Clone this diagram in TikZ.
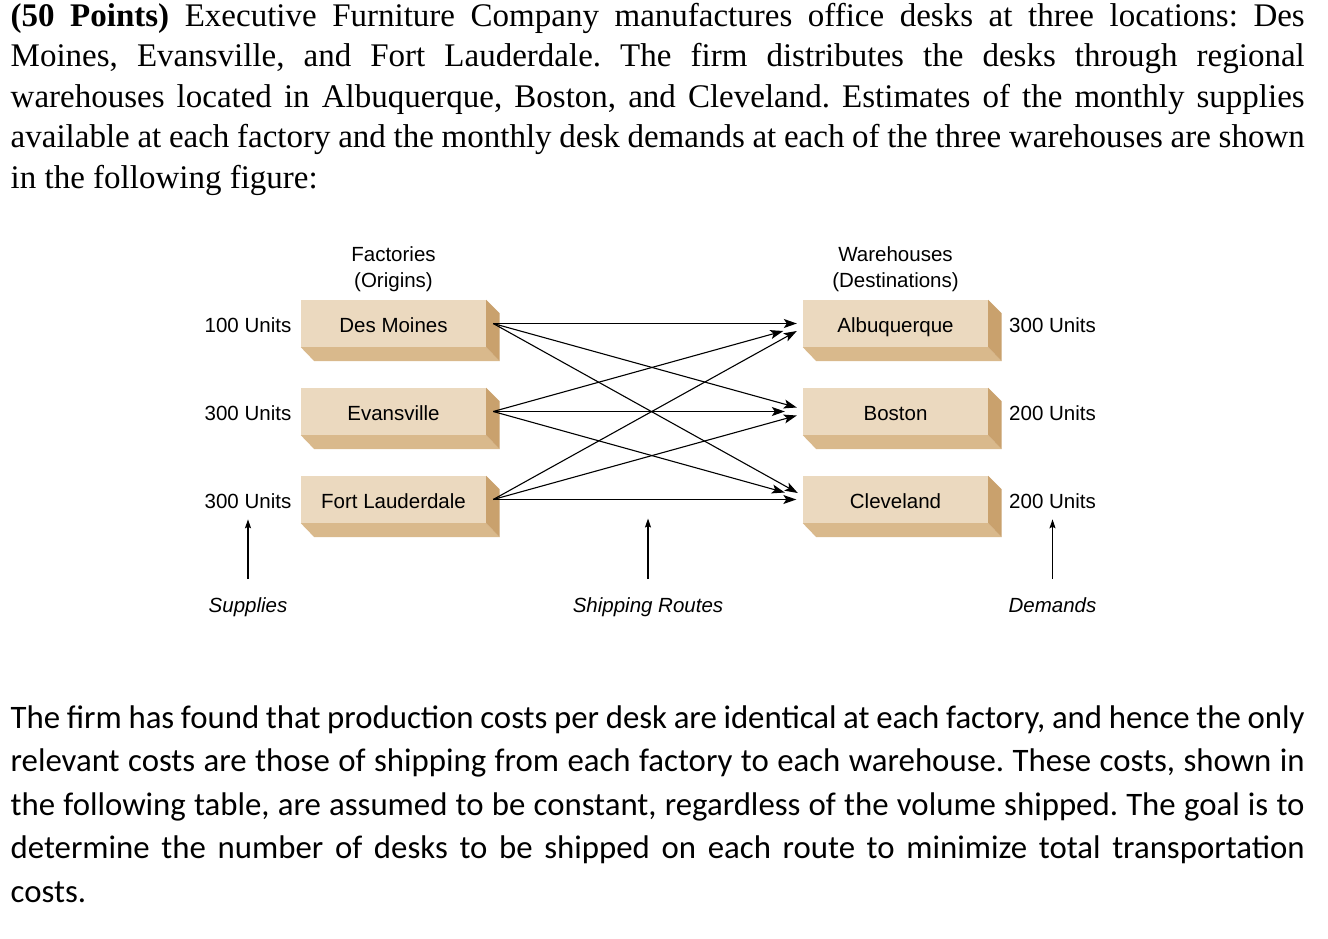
\documentclass[tikz,border=0pt]{standalone}
\usepackage{fontspec}
\setmainfont{Liberation Serif}
\setsansfont{Liberation Sans}
\newfontfamily\calibfont{Carlito}
\usetikzlibrary{arrows.meta}
\definecolor{boxfront}{HTML}{EBD9BF}
\definecolor{boxbottom}{HTML}{D9B98C}
\definecolor{boxside}{HTML}{C9A16D}
\begin{document}
\begin{tikzpicture}[x=1pt,y=-1pt,
  toptext/.style={anchor=base west, inner sep=0pt, font=\fontsize{33}{40}\selectfont},
  bottext/.style={anchor=base west, inner sep=0pt, font=\calibfont\fontsize{32.8}{43}\selectfont},
  lbl/.style={anchor=base, inner sep=0pt, font=\sffamily\fontsize{20.5}{26}\selectfont},
  note/.style={lbl, font=\sffamily\itshape\fontsize{20.5}{26}\selectfont},
  desk/.style={fill=boxfront, minimum width=185pt, minimum height=47pt, inner sep=0pt, text height=18pt, text depth=0.4pt, font=\sffamily\fontsize{20.5}{26}\selectfont},
  route/.style={line width=1.1pt, -{Stealth[length=13pt,width=9pt,inset=3pt]}},
  uparrow/.style={line width=1.1pt, -{Stealth[length=9pt,width=6pt,inset=1.5pt]}}
]
\fill[white] (0,0) rectangle (1328,938);
\useasboundingbox (0,0) rectangle (1328,938);

% top paragraph
\node[toptext] (t1) at (10.5,26) {\hbox to 1294pt{\frenchspacing\textbf{(50 Points)} Executive Furniture Company manufactures office desks at three locations: Des}};
\node[toptext] (t2) at (10.5,66.6) {\hbox to 1294pt{\frenchspacing Moines, Evansville, and Fort Lauderdale. The firm distributes the desks through regional}};
\node[toptext] (t3) at (10.5,107.2) {\hbox to 1294pt{\frenchspacing warehouses located in Albuquerque, Boston, and Cleveland. Estimates of the monthly supplies}};
\node[toptext] (t4) at (10.5,147.8) {\hbox to 1294pt{\frenchspacing available at each factory and the monthly desk demands at each of the three warehouses are shown}};
\node[toptext] (t5) at (10.5,188.4) {in the following figure:};

% headings (base anchor = last line)
\node[lbl, align=center] (fachead) at (393.5,287.5) {Factories\\(Origins)};
\node[lbl, align=center] (whhead) at (895.5,287.5) {Warehouses\\(Destinations)};

% boxes
\node[desk] (dm) at (393.5,323.5) {Des Moines};
\node[desk] (ev) at (393.5,411.5) {Evansville};
\node[desk] (fl) at (393.5,499.5) {Fort Lauderdale};
\node[desk] (alb) at (895.5,323.5) {Albuquerque};
\node[desk] (bos) at (895.5,411.5) {Boston};
\node[desk] (clev) at (895.5,499.5) {Cleveland};
\foreach \n in {dm,ev,fl,alb,bos,clev}{
  \fill[boxbottom] (\n.south west) -- ++(13.5,14) -- ([shift={(13.5,14)}]\n.south east) -- (\n.south east) -- cycle;
  \fill[boxside] (\n.north east) -- ++(13.5,13.5) -- ([shift={(13.5,14)}]\n.south east) -- (\n.south east) -- cycle;
}

% supplies and demands
\node[lbl] (s1) at (248,332.3) {100 Units};
\node[lbl] (s2) at (248,420.3) {300 Units};
\node[lbl] (s3) at (248,508.3) {300 Units};
\node[lbl] (d1) at (1052.5,332.3) {300 Units};
\node[lbl] (d2) at (1052.5,420.3) {200 Units};
\node[lbl] (d3) at (1052.5,508.3) {200 Units};

% routes
\draw[route] ([xshift=7pt]dm.east) -- ([xshift=-6pt]alb.west);
\draw[route] ([xshift=7pt]dm.east) -- ([shift={(-6,-4)}]bos.west);
\draw[route] ([xshift=7pt]dm.east) -- ([shift={(-5,-6.5)}]clev.west);
\draw[route] ([xshift=7pt]ev.east) -- ([shift={(-19.5,7.5)}]alb.west);
\draw[route] ([xshift=7pt]ev.east) -- ([shift={(-18,0)}]bos.west);
\draw[route] ([xshift=7pt]ev.east) -- ([shift={(-18,-7)}]clev.west);
\draw[route] ([xshift=7pt]fl.east) -- ([shift={(-6,7.5)}]alb.west);
\draw[route] ([xshift=7pt]fl.east) -- ([shift={(-6,4)}]bos.west);
\draw[route] ([xshift=7pt]fl.east) -- ([shift={(-6.5,0)}]clev.west);

% notes
\node[note] (sup) at (248,612) {Supplies};
\node[note] (ship) at (648,612) {Shipping Routes};
\node[note] (dem) at (1052.5,612) {Demands};
\coordinate (routestip) at (648,518.5);
\draw[uparrow] ([shift={(0,-33)}]sup.base) -- ([shift={(0,11)}]s3.base);
\draw[uparrow] ([shift={(0,-33)}]ship.base) -- (routestip);
\draw[uparrow] ([shift={(0,-33)}]dem.base) -- ([shift={(0,11)}]d3.base);

% bottom paragraph
\node[bottext] (b1) at (10.5,728) {\hbox to 1294pt{\frenchspacing The firm has found that production costs per desk are identical at each factory, and hence the only}};
\node[bottext] (b2) at (10.5,771.5) {\hbox to 1294pt{\frenchspacing relevant costs are those of shipping from each factory to each warehouse. These costs, shown in}};
\node[bottext] (b3) at (10.5,815) {\hbox to 1294pt{\frenchspacing the following table, are assumed to be constant, regardless of the volume shipped. The goal is to}};
\node[bottext] (b4) at (10.5,858.5) {\hbox to 1294pt{\frenchspacing determine the number of desks to be shipped on each route to minimize total transportation}};
\node[bottext] (b5) at (10.5,902) {costs.};
\end{tikzpicture}
\end{document}
